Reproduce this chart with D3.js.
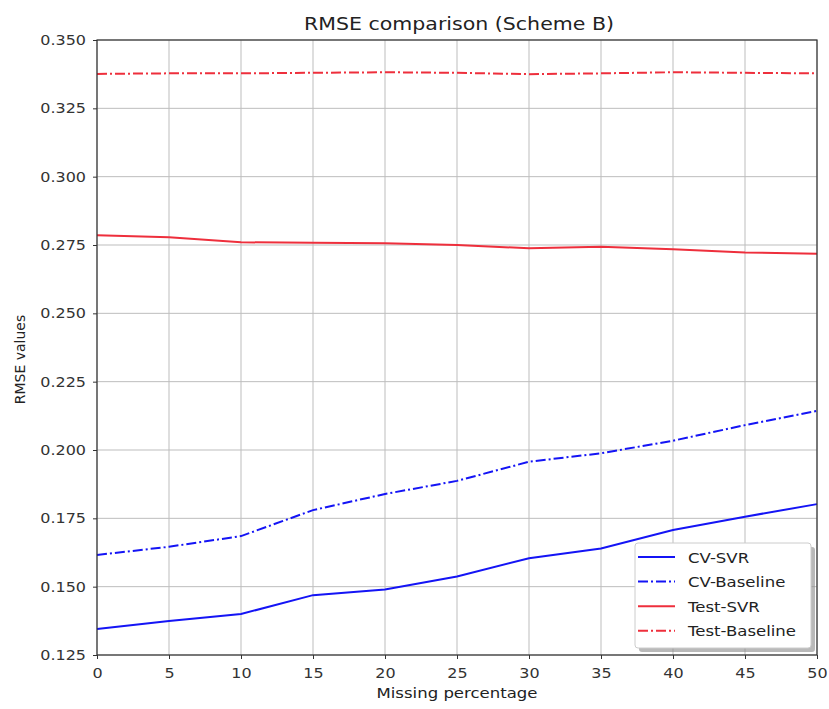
<!DOCTYPE html>
<html>
<head>
<meta charset="utf-8">
<script src="https://cdn.jsdelivr.net/npm/d3@7"></script>
<style>
  body { margin: 0; background: #fff; }
  svg { font-family: "DejaVu Sans", sans-serif; }
</style>
</head>
<body>
<svg id="chart" width="829" height="709"></svg>
<script>
// Missing percentage (x) and RMSE for each series
const missing = [0, 5, 10, 15, 20, 25, 30, 35, 40, 45, 50];
const cvSvr = [0.1345, 0.1374, 0.1400, 0.1469, 0.1490, 0.1537, 0.1604, 0.1640, 0.1707, 0.1756, 0.1802];
const cvBaseline = [0.1616, 0.1646, 0.1685, 0.1780, 0.1839, 0.1887, 0.1957, 0.1988, 0.2034, 0.2091, 0.2143];
const testSvr = [0.2786, 0.2778, 0.2760, 0.2758, 0.2756, 0.2750, 0.2738, 0.2744, 0.2734, 0.2723, 0.2718];
const testBaseline = [0.3376, 0.3378, 0.3378, 0.3380, 0.3382, 0.3380, 0.3375, 0.3378, 0.3382, 0.3380, 0.3378];
const yTicks = [0.125, 0.150, 0.175, 0.200, 0.225, 0.250, 0.275, 0.300, 0.325, 0.350];
const xTicks = [0, 5, 10, 15, 20, 25, 30, 35, 40, 45, 50];

const series = [
  { name: "CV-SVR", values: cvSvr, color: "#1414f5", dash: null },
  { name: "CV-Baseline", values: cvBaseline, color: "#1414f5", dash: "10,3,2,3" },
  { name: "Test-SVR", values: testSvr, color: "#ee2f3c", dash: null },
  { name: "Test-Baseline", values: testBaseline, color: "#ee2f3c", dash: "10,3,2,3" }
];

const svg = d3.select("#chart");
const margin = { left: 97, right: 12, top: 40, bottom: 54 };
const W = 829, H = 709;
const WIDEN = 1.14; // horizontal text widening

const x = d3.scaleLinear().domain([0, 50]).range([margin.left, W - margin.right]);
const y = d3.scaleLinear().domain([0.125, 0.350]).range([H - margin.bottom, margin.top]);

// grid
const grid = svg.append("g");
grid.selectAll("line.gx").data(xTicks).join("line")
  .attr("x1", d => x(d)).attr("x2", d => x(d))
  .attr("y1", y(0.125)).attr("y2", y(0.350))
  .attr("stroke", "#bdbdbd").attr("stroke-width", 1);
grid.selectAll("line.gy").data(yTicks).join("line")
  .attr("x1", x(0)).attr("x2", x(50))
  .attr("y1", d => y(d)).attr("y2", d => y(d))
  .attr("stroke", "#bdbdbd").attr("stroke-width", 1);

// lines
const line = d3.line().x((d, i) => x(missing[i])).y(d => y(d));
series.forEach(s => {
  svg.append("path")
    .datum(s.values)
    .attr("d", line)
    .attr("fill", "none")
    .attr("stroke", s.color)
    .attr("stroke-width", 2)
    .attr("stroke-dasharray", s.dash);
});

// frame
svg.append("rect")
  .attr("x", x(0)).attr("y", y(0.350))
  .attr("width", x(50) - x(0)).attr("height", y(0.125) - y(0.350))
  .attr("fill", "none").attr("stroke", "#333").attr("stroke-width", 1.2);

// axes
const xAxis = svg.append("g")
  .attr("transform", `translate(0,${y(0.125)})`)
  .call(d3.axisBottom(x).tickValues(xTicks).tickSize(4).tickPadding(9).tickFormat(d3.format("d")));
const yAxis = svg.append("g")
  .attr("transform", `translate(${x(0)},0)`)
  .call(d3.axisLeft(y).tickValues(yTicks).tickSize(4).tickPadding(7).tickFormat(d3.format(".3f")));
[xAxis, yAxis].forEach(a => {
  a.select(".domain").remove();
  a.selectAll(".tick line").attr("stroke", "#333");
  a.selectAll(".tick text").attr("fill", "#333").attr("class", "wide").style("font-size", "14px")
    .style("font-family", "DejaVu Sans, sans-serif");
});

// title and axis labels
svg.append("text").attr("class", "wide").attr("x", 459).attr("y", 30)
  .attr("text-anchor", "middle").attr("fill", "#222").style("font-size", "18px")
  .text("RMSE comparison (Scheme B)");
svg.append("text").attr("class", "wide").attr("x", 457).attr("y", 698)
  .attr("text-anchor", "middle").attr("fill", "#222").style("font-size", "14.5px")
  .text("Missing percentage");
svg.append("text")
  .attr("transform", `translate(25,${(y(0.125) + y(0.350)) / 2 + 12}) rotate(-90)`)
  .attr("text-anchor", "middle").attr("fill", "#222").style("font-size", "14px")
  .text("RMSE values");

// legend
const lg = svg.append("g").attr("transform", "translate(635,543)");
lg.append("rect").attr("x", 4).attr("y", 4).attr("width", 176).attr("height", 105)
  .attr("rx", 3).attr("fill", "#8a8a8a").attr("opacity", 0.6);
lg.append("rect").attr("x", 0).attr("y", 0).attr("width", 176).attr("height", 105)
  .attr("rx", 3).attr("fill", "#fff").attr("stroke", "#ccc");
series.forEach((s, i) => {
  const cy = 14 + i * 24.6;
  lg.append("line").attr("x1", 3).attr("x2", 40).attr("y1", cy).attr("y2", cy)
    .attr("stroke", s.color).attr("stroke-width", 2).attr("stroke-dasharray", s.dash);
  lg.append("text").attr("class", "wide").attr("x", 53).attr("y", cy + 5.5).attr("fill", "#222")
    .style("font-size", "14.5px").text(s.name);
});

// widen horizontal labels
svg.selectAll("text.wide").each(function () {
  const len = this.getComputedTextLength();
  d3.select(this).attr("textLength", len * WIDEN).attr("lengthAdjust", "spacingAndGlyphs");
});
</script>
</body>
</html>
